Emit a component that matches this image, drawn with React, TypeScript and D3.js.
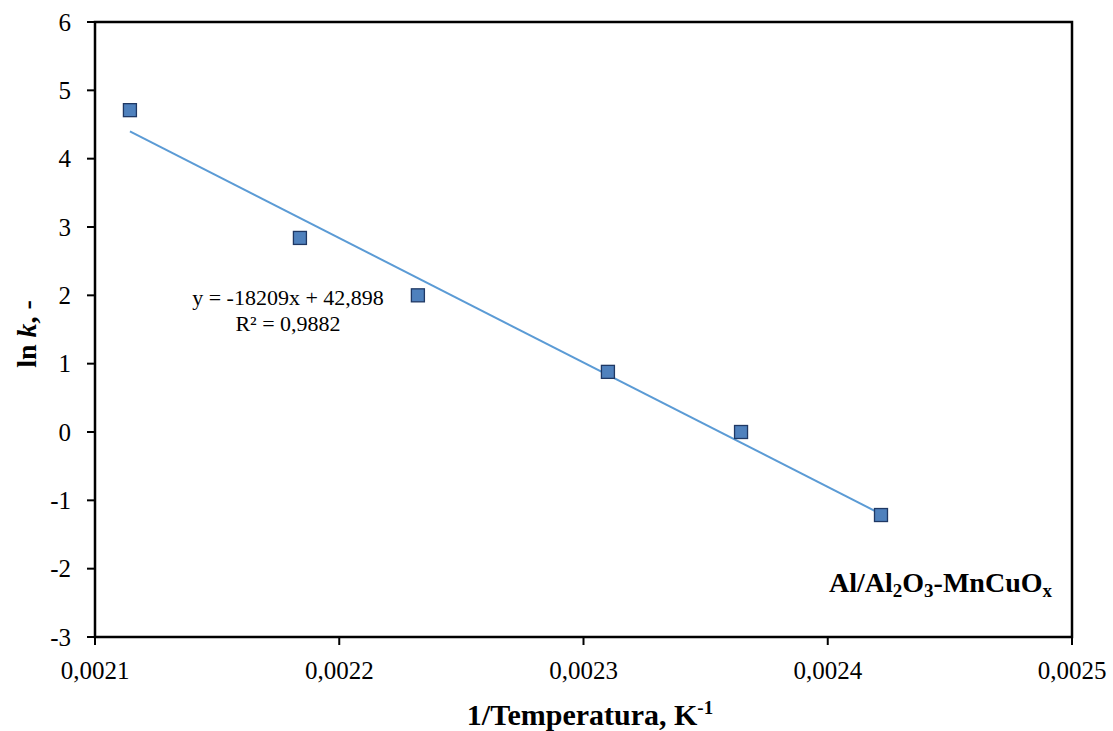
import React from "react";
import * as d3 from "d3";

const invT = [0.0021143, 0.0021839, 0.0022322, 0.00231, 0.0023645, 0.0024218];
const lnK = [4.71, 2.84, 2.0, 0.88, 0.0, -1.215];
const xTicks = [0.0021, 0.0022, 0.0023, 0.0024, 0.0025];
const yTicks = [-3, -2, -1, 0, 1, 2, 3, 4, 5, 6];
const slope = [-18209];
const intercept = [42.898];

const W = 1113, H = 731;
const L = 95, R = 1072, T = 22, B = 637;
const serif = "'Liberation Serif', 'Times New Roman', serif";

export default function App() {
  const x = d3.scaleLinear().domain([0.0021, 0.0025]).range([L, R]);
  const y = d3.scaleLinear().domain([-3, 6]).range([B, T]);
  const x0 = d3.min(invT)!, x1 = d3.max(invT)!;
  const trend = [x0, x1].map((v) => [v, slope[0] * v + intercept[0]] as [number, number]);
  const line = d3.line<[number, number]>().x((d) => x(d[0])).y((d) => y(d[1]));
  const fmt = (v: number) => v.toFixed(4).replace(".", ",");
  const sq = 13;
  return (
    <svg width={W} height={H} style={{ position: "absolute", left: 0, top: 0, background: "#fff" }} fontFamily={serif}>
      <rect x={0} y={0} width={W} height={H} fill="#fff" />
      <rect x={L} y={T} width={R - L} height={B - T} fill="none" stroke="#000" strokeWidth={2.5} />
      {yTicks.map((t) => (
        <g key={"y" + t}>
          <line x1={L - 8} x2={L} y1={y(t)} y2={y(t)} stroke="#000" strokeWidth={2} />
          <text x={71} y={y(t)} dy="0.35em" textAnchor="end" fontSize={25}>{t}</text>
        </g>
      ))}
      {xTicks.map((t) => (
        <g key={"x" + t}>
          <line x1={x(t)} x2={x(t)} y1={B} y2={B + 8} stroke="#000" strokeWidth={2} />
          <text x={x(t)} y={679} textAnchor="middle" fontSize={25}>{fmt(t)}</text>
        </g>
      ))}
      <path d={line(trend)!} fill="none" stroke="#5B9BD5" strokeWidth={2} />
      {invT.map((v, i) => (
        <rect key={i} x={x(v) - sq / 2} y={y(lnK[i]) - sq / 2} width={sq} height={sq} fill="#4F81BD" stroke="#1F3864" strokeWidth={1.3} />
      ))}
      <text x={288} y={305} textAnchor="middle" fontSize={22}>y = -18209x + 42,898</text>
      <text x={288} y={331} textAnchor="middle" fontSize={22}>R² = 0,9882</text>
      <text x={1052} y={592} textAnchor="end" fontSize={28} fontWeight="bold">
        Al/Al<tspan fontSize={19} dy={5}>2</tspan><tspan dy={-5}>O</tspan><tspan fontSize={19} dy={5}>3</tspan><tspan dy={-5}>-MnCuO</tspan><tspan fontSize={19} dy={5}>x</tspan>
      </text>
      <text x={590} y={725} textAnchor="middle" fontSize={30} fontWeight="bold">
        1/Temperatura, K<tspan fontSize={19} dy={-11}>-1</tspan>
      </text>
      <text transform="translate(36,334) rotate(-90)" textAnchor="middle" fontSize={28} fontWeight="bold">
        ln <tspan fontStyle="italic">k</tspan>, -
      </text>
    </svg>
  );
}
